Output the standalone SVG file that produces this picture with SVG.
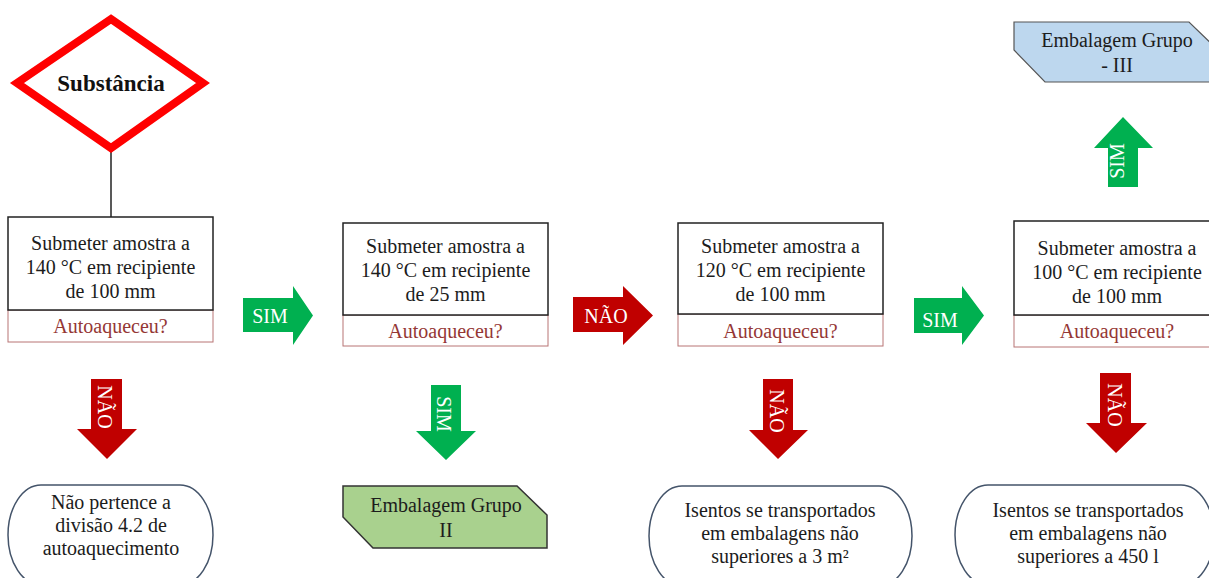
<svg xmlns="http://www.w3.org/2000/svg" width="1209" height="578" viewBox="0 0 1209 578" font-family="'Liberation Serif', 'Times New Roman', serif">
<style>
  .txt { font-family: "Liberation Serif", serif; font-size: 20px; fill: #1c1c1c; text-anchor: middle; }
  .qtxt { font-family: "Liberation Serif", serif; font-size: 20px; fill: #953735; text-anchor: middle; }
  .title { font-family: "Liberation Serif", serif; font-size: 23px; font-weight: bold; fill: #111; text-anchor: middle; }
  .box { fill: #fff; stroke: #222; stroke-width: 1.5; }
  .qbox { fill: #fff; stroke: #b87474; stroke-width: 1; }
  .term { fill: #fff; stroke: #44546a; stroke-width: 1.5; }
  .green { fill: #00b050; }
  .red { fill: #c00000; }
  .at { font-family: "Liberation Serif", serif; font-size: 20px; fill: #fff; text-anchor: middle; dominant-baseline: central; }
</style>
<rect width="1209" height="578" fill="#fff"/>

<g id="connectors">
  <line x1="111" y1="150" x2="111" y2="217" stroke="#222" stroke-width="1.5"/>
  <g id="arrow-sim-1">
    <polygon class="green" points="243,298 293,298 293,286 313,315.5 293,345 293,332 243,332"/>
    <text class="at" x="270" y="316">SIM</text>
  </g>
  <g id="arrow-nao-2">
    <polygon class="red" points="573,297 623,297 623,286 653,315.5 623,345 623,332 573,332"/>
    <text class="at" x="606" y="316">NÃO</text>
  </g>
  <g id="arrow-sim-3">
    <polygon class="green" points="914,298 962,298 962,286 984,315.5 962,345 962,333 914,333"/>
    <text class="at" x="940" y="320">SIM</text>
  </g>
  <g id="arrow-sim-up">
    <polygon class="green" points="1108,187 1108,148 1094,148 1123,117 1153,148 1138,148 1138,187"/>
    <text class="at" transform="translate(1117,161) rotate(-90)">SIM</text>
  </g>
  <g id="arrow-nao-down-1">
    <polygon class="red" points="91,379 122,379 122,429 137,429 107,459 77,429 91,429"/>
    <text class="at" transform="translate(105,407) rotate(90)">NÃO</text>
  </g>
  <g id="arrow-sim-down-2">
    <polygon class="green" points="431,385 461,385 461,431 476,431 446,460 416,431 431,431"/>
    <text class="at" transform="translate(444,414) rotate(90)">SIM</text>
  </g>
  <g id="arrow-nao-down-3">
    <polygon class="red" points="763,379 793,379 793,430 808,430 778,459 749,430 763,430"/>
    <text class="at" transform="translate(777,411) rotate(90)">NÃO</text>
  </g>
  <g id="arrow-nao-down-4">
    <polygon class="red" points="1100,373 1131,373 1131,423 1147,423 1116,453 1086,423 1100,423"/>
    <text class="at" transform="translate(1115,405) rotate(90)">NÃO</text>
  </g>
</g>

<g id="substancia">
  <polygon points="111,19 203,83 111,148 17,83" fill="#fff" stroke="#ff0000" stroke-width="8" stroke-linejoin="miter"/>
  <text class="title" x="111" y="91">Substância</text>
</g>

<g id="box1">
  <rect class="qbox" x="8" y="310" width="205" height="32"/>
  <rect class="box" x="8" y="217" width="205" height="93"/>
  <text class="txt" font-family="Liberation Serif" x="110.5" y="250">Submeter amostra a</text>
  <text class="txt" font-family="Liberation Serif" x="110.5" y="274">140 °C em recipiente</text>
  <text class="txt" font-family="Liberation Serif" x="110.5" y="298">de 100 mm</text>
  <text class="qtxt" x="110.5" y="333">Autoaqueceu?</text>
</g>

<g id="box2">
  <rect class="qbox" x="343" y="315" width="205" height="31"/>
  <rect class="box" x="343" y="223" width="205" height="92"/>
  <text class="txt" font-family="Liberation Serif" x="445.5" y="253">Submeter amostra a</text>
  <text class="txt" font-family="Liberation Serif" x="445.5" y="277">140 °C em recipiente</text>
  <text class="txt" font-family="Liberation Serif" x="445.5" y="301">de 25 mm</text>
  <text class="qtxt" x="445.5" y="338">Autoaqueceu?</text>
</g>

<g id="box3">
  <rect class="qbox" x="678" y="314" width="205" height="32"/>
  <rect class="box" x="678" y="223" width="205" height="91"/>
  <text class="txt" font-family="Liberation Serif" x="780.5" y="253">Submeter amostra a</text>
  <text class="txt" font-family="Liberation Serif" x="780.5" y="277">120 °C em recipiente</text>
  <text class="txt" font-family="Liberation Serif" x="780.5" y="301">de 100 mm</text>
  <text class="qtxt" x="780.5" y="338">Autoaqueceu?</text>
</g>

<g id="box4">
  <rect class="qbox" x="1014" y="315" width="205" height="32"/>
  <rect class="box" x="1014" y="221" width="205" height="94"/>
  <text class="txt" font-family="Liberation Serif" x="1117" y="255">Submeter amostra a</text>
  <text class="txt" font-family="Liberation Serif" x="1117" y="279">100 °C em recipiente</text>
  <text class="txt" font-family="Liberation Serif" x="1117" y="303">de 100 mm</text>
  <text class="qtxt" x="1117" y="338">Autoaqueceu?</text>
</g>

<g id="grupo3">
  <polygon points="1014,22 1189,22 1219,51 1219,82 1045,82 1014,50" fill="#bdd7ee" stroke="#555" stroke-width="1.2"/>
  <text class="txt" font-family="Liberation Serif" x="1117" y="47">Embalagem Grupo</text>
  <text class="txt" font-family="Liberation Serif" x="1117" y="72">- III</text>
</g>

<g id="grupo2">
  <polygon points="343,486 517,486 547,515 547,548 373,548 343,517" fill="#a9d18e" stroke="#333" stroke-width="1.5"/>
  <text class="txt" font-family="Liberation Serif" x="446" y="512">Embalagem Grupo</text>
  <text class="txt" font-family="Liberation Serif" x="446" y="537">II</text>
</g>

<g id="term1">
  <rect class="term" x="8" y="485" width="205" height="100" rx="33" ry="50"/>
  <text class="txt" font-family="Liberation Serif" x="111" y="509">Não pertence a</text>
  <text class="txt" font-family="Liberation Serif" x="111" y="532">divisão 4.2 de</text>
  <text class="txt" font-family="Liberation Serif" x="111" y="555">autoaquecimento</text>
</g>

<g id="term3">
  <rect class="term" x="649" y="486" width="263" height="100" rx="33" ry="50"/>
  <text class="txt" font-family="Liberation Serif" x="780" y="517">Isentos se transportados</text>
  <text class="txt" font-family="Liberation Serif" x="780" y="540">em embalagens não</text>
  <text class="txt" font-family="Liberation Serif" x="780" y="563">superiores a 3 m²</text>
</g>

<g id="term4">
  <rect class="term" x="955" y="485" width="259" height="100" rx="33" ry="50"/>
  <text class="txt" font-family="Liberation Serif" x="1088" y="517">Isentos se transportados</text>
  <text class="txt" font-family="Liberation Serif" x="1088" y="540">em embalagens não</text>
  <text class="txt" font-family="Liberation Serif" x="1088" y="563">superiores a 450 l</text>
</g>
</svg>
